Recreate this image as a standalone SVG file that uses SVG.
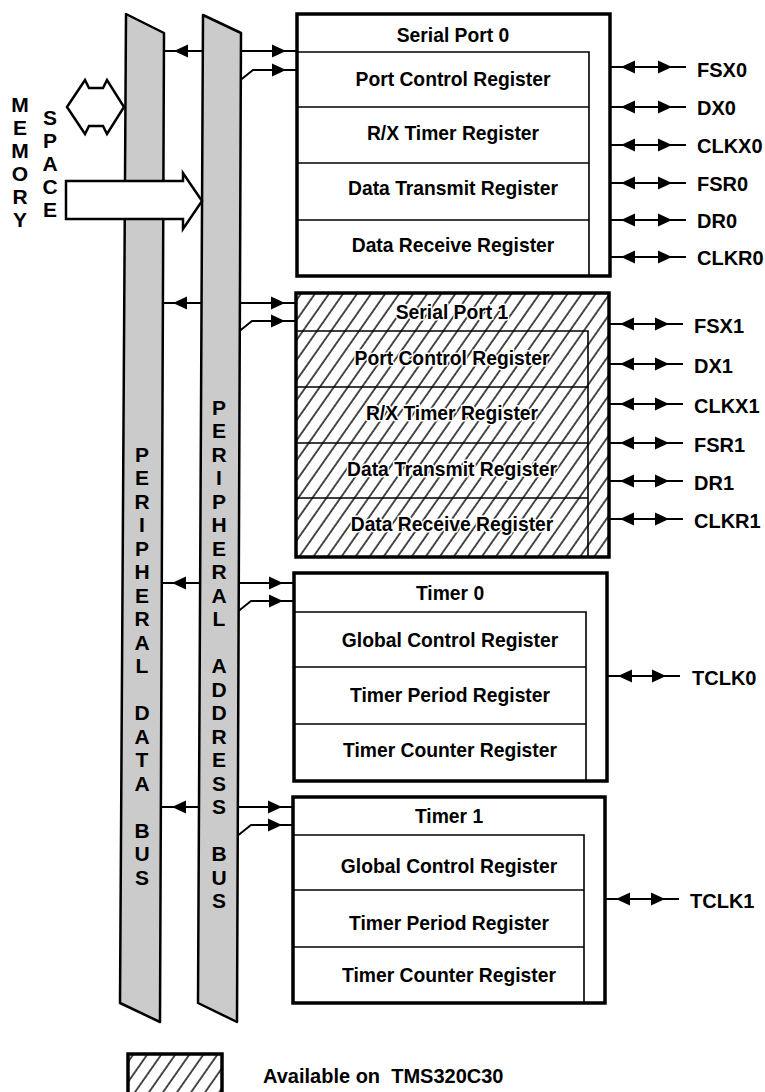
<svg xmlns="http://www.w3.org/2000/svg" width="765" height="1092" viewBox="0 0 765 1092">
<style>
text{font-family:"Liberation Sans",Arial,sans-serif;font-weight:bold;fill:#000}
.reg{font-size:19.3px;text-anchor:middle}
.pin{font-size:20px}
.let{font-size:21px;text-anchor:middle}
.halo{stroke:#fff;stroke-width:3;paint-order:stroke;stroke-linejoin:round}
.box{fill:#fff;stroke:#000;stroke-width:3.5}
.hbox{fill:url(#hatch);stroke:#000;stroke-width:3.5}
.in{stroke:#000;stroke-width:1.6;fill:none}
.con{stroke:#000;stroke-width:2;fill:none}
.bus{fill:#cbcbcb;stroke:#000;stroke-width:2.5;stroke-linejoin:round}
.big{fill:#fff;stroke:#000;stroke-width:2.5;stroke-linejoin:miter}
</style>
<defs>
<pattern id="hatch" patternUnits="userSpaceOnUse" width="11.5" height="11.5" patternTransform="rotate(35)">
<rect width="11.5" height="11.5" fill="#fff"/>
<line x1="1" y1="0" x2="1" y2="11.5" stroke="#000" stroke-width="1.4"/>
</pattern>
<path id="aR" d="M0,0 L-14,-6.5 L-14,6.5 Z" fill="#000"/>
<path id="aL" d="M0,0 L14,-6.5 L14,6.5 Z" fill="#000"/>
</defs>

<g id="connectors">
<!-- Serial Port 0 -->
<line class="con" x1="150" y1="51" x2="297" y2="51"/>
<use href="#aL" x="174" y="51"/><use href="#aR" x="286" y="51"/>
<polyline class="con" points="238,82 253,70 297,70"/>
<use href="#aR" x="286" y="70"/>
<!-- Serial Port 1 -->
<line class="con" x1="150" y1="303" x2="296" y2="303"/>
<use href="#aL" x="173" y="303"/><use href="#aR" x="285" y="303"/>
<polyline class="con" points="237,333 252,321 296,321"/>
<use href="#aR" x="285" y="321"/>
<!-- Timer 0 -->
<line class="con" x1="150" y1="583" x2="294" y2="583"/>
<use href="#aL" x="172" y="583"/><use href="#aR" x="283" y="583"/>
<polyline class="con" points="236,613 251,601 294,601"/>
<use href="#aR" x="283" y="601"/>
<!-- Timer 1 -->
<line class="con" x1="150" y1="807" x2="293" y2="807"/>
<use href="#aL" x="172" y="807"/><use href="#aR" x="282" y="807"/>
<polyline class="con" points="236,837 251,825 293,825"/>
<use href="#aR" x="282" y="825"/>
<!-- pins SP0 -->
<g>
<line class="con" x1="610" y1="67" x2="686" y2="67"/><use href="#aL" x="621" y="67"/><use href="#aR" x="672" y="67"/>
<line class="con" x1="610" y1="107" x2="686" y2="107"/><use href="#aL" x="621" y="107"/><use href="#aR" x="672" y="107"/>
<line class="con" x1="610" y1="145" x2="686" y2="145"/><use href="#aL" x="621" y="145"/><use href="#aR" x="672" y="145"/>
<line class="con" x1="610" y1="183" x2="686" y2="183"/><use href="#aL" x="621" y="183"/><use href="#aR" x="672" y="183"/>
<line class="con" x1="610" y1="220" x2="686" y2="220"/><use href="#aL" x="621" y="220"/><use href="#aR" x="672" y="220"/>
<line class="con" x1="610" y1="257" x2="686" y2="257"/><use href="#aL" x="621" y="257"/><use href="#aR" x="672" y="257"/>
</g>
<!-- pins SP1 -->
<g>
<line class="con" x1="609" y1="324" x2="683" y2="324"/><use href="#aL" x="620" y="324"/><use href="#aR" x="669" y="324"/>
<line class="con" x1="609" y1="364" x2="683" y2="364"/><use href="#aL" x="620" y="364"/><use href="#aR" x="669" y="364"/>
<line class="con" x1="609" y1="404" x2="683" y2="404"/><use href="#aL" x="620" y="404"/><use href="#aR" x="669" y="404"/>
<line class="con" x1="609" y1="443" x2="683" y2="443"/><use href="#aL" x="620" y="443"/><use href="#aR" x="669" y="443"/>
<line class="con" x1="609" y1="481" x2="683" y2="481"/><use href="#aL" x="620" y="481"/><use href="#aR" x="669" y="481"/>
<line class="con" x1="609" y1="519" x2="683" y2="519"/><use href="#aL" x="620" y="519"/><use href="#aR" x="669" y="519"/>
</g>
<!-- pins timers -->
<line class="con" x1="607" y1="676" x2="680" y2="676"/><use href="#aL" x="618" y="676"/><use href="#aR" x="666" y="676"/>
<line class="con" x1="605" y1="899" x2="679" y2="899"/><use href="#aL" x="616" y="899"/><use href="#aR" x="665" y="899"/>
</g>

<g id="data-bus">
<polygon class="bus" points="126,14 164,33 160,1022 120,1003"/>
<text class="let" x="142"><tspan x="142" y="461.5">P</tspan><tspan x="142" y="485">E</tspan><tspan x="142" y="508.5">R</tspan><tspan x="142" y="532">I</tspan><tspan x="142" y="555.5">P</tspan><tspan x="142" y="579">H</tspan><tspan x="142" y="602.5">E</tspan><tspan x="142" y="626">R</tspan><tspan x="142" y="649.5">A</tspan><tspan x="142" y="673">L</tspan><tspan x="142" y="720">D</tspan><tspan x="142" y="743.5">A</tspan><tspan x="142" y="767">T</tspan><tspan x="142" y="790.5">A</tspan><tspan x="142" y="837.5">B</tspan><tspan x="142" y="861">U</tspan><tspan x="142" y="884.5">S</tspan></text>
</g>

<g id="address-bus">
<polygon class="bus" points="203,15 241,33 237,1022 198,1003"/>
<text class="let" x="219"><tspan x="219" y="414.5">P</tspan><tspan x="219" y="438">E</tspan><tspan x="219" y="461.5">R</tspan><tspan x="219" y="485">I</tspan><tspan x="219" y="508.5">P</tspan><tspan x="219" y="532">H</tspan><tspan x="219" y="555.5">E</tspan><tspan x="219" y="579">R</tspan><tspan x="219" y="602.5">A</tspan><tspan x="219" y="626">L</tspan><tspan x="219" y="673">A</tspan><tspan x="219" y="696.5">D</tspan><tspan x="219" y="720">D</tspan><tspan x="219" y="743.5">R</tspan><tspan x="219" y="767">E</tspan><tspan x="219" y="790.5">S</tspan><tspan x="219" y="814">S</tspan><tspan x="219" y="861">B</tspan><tspan x="219" y="884.5">U</tspan><tspan x="219" y="908">S</tspan></text>
</g>

<g id="memory-space">
<text class="let" x="20"><tspan x="20" y="111.5">M</tspan><tspan x="20" y="134.5">E</tspan><tspan x="20" y="157.5">M</tspan><tspan x="20" y="180.5">O</tspan><tspan x="20" y="203.5">R</tspan><tspan x="20" y="226.5">Y</tspan></text>
<text class="let" x="50"><tspan x="50" y="124.5">S</tspan><tspan x="50" y="147.5">P</tspan><tspan x="50" y="170.5">A</tspan><tspan x="50" y="193.5">C</tspan><tspan x="50" y="216.5">E</tspan></text>
<path class="big" d="M67,107 L85,80 L89,88 L103,88 L107,80 L124,107 L107,134 L103,126 L89,126 L85,134 Z"/>
<path class="big" d="M66,181 L183,181 L183,173 L202,201 L183,229 L183,219 L66,219 Z"/>
</g>

<g id="serial-port-0">
<rect class="box" x="297" y="14" width="313" height="262"/>
<path class="in" d="M297,52 H589 V276 M297,107 H589 M297,163 H589 M297,220 H589"/>
<text class="reg" x="453" y="42">Serial Port 0</text>
<text class="reg" x="453" y="86">Port Control Register</text>
<text class="reg" x="453" y="140">R/X Timer Register</text>
<text class="reg" x="453" y="195">Data Transmit Register</text>
<text class="reg" x="453" y="252">Data Receive Register</text>
<text class="pin" x="697" y="77">FSX0</text>
<text class="pin" x="697" y="115">DX0</text>
<text class="pin" x="697" y="153">CLKX0</text>
<text class="pin" x="697" y="191">FSR0</text>
<text class="pin" x="697" y="228">DR0</text>
<text class="pin" x="697" y="265">CLKR0</text>
</g>

<g id="serial-port-1">
<rect class="hbox" x="296" y="293" width="313" height="264"/>
<path class="in" d="M296,331 H588 V557 M296,387 H588 M296,443 H588 M296,498 H588"/>
<text class="reg halo" x="452" y="319">Serial Port 1</text>
<text class="reg halo" x="452" y="365">Port Control Register</text>
<text class="reg halo" x="452" y="420">R/X Timer Register</text>
<text class="reg halo" x="452" y="476">Data Transmit Register</text>
<text class="reg halo" x="452" y="531">Data Receive Register</text>
<text class="pin" x="694" y="333">FSX1</text>
<text class="pin" x="694" y="373">DX1</text>
<text class="pin" x="694" y="413">CLKX1</text>
<text class="pin" x="694" y="452">FSR1</text>
<text class="pin" x="694" y="490">DR1</text>
<text class="pin" x="694" y="528">CLKR1</text>
</g>

<g id="timer-0">
<rect class="box" x="294" y="573" width="313" height="208"/>
<path class="in" d="M294,612 H586 V781 M294,667 H586 M294,724 H586"/>
<text class="reg" x="450" y="600">Timer 0</text>
<text class="reg" x="450" y="647">Global Control Register</text>
<text class="reg" x="450" y="702">Timer Period Register</text>
<text class="reg" x="450" y="757">Timer Counter Register</text>
<text class="pin" x="692" y="685">TCLK0</text>
</g>

<g id="timer-1">
<rect class="box" x="293" y="797" width="312" height="206"/>
<path class="in" d="M293,835 H584 V1003 M293,890 H584 M293,947 H584"/>
<text class="reg" x="449" y="823">Timer 1</text>
<text class="reg" x="449" y="873">Global Control Register</text>
<text class="reg" x="449" y="930">Timer Period Register</text>
<text class="reg" x="449" y="982">Timer Counter Register</text>
<text class="pin" x="690" y="908">TCLK1</text>
</g>

<g id="legend">
<rect class="hbox" x="128" y="1054" width="94" height="42"/>
<text class="pin" x="263" y="1083" xml:space="preserve">Available on  TMS320C30</text>
</g>
</svg>
